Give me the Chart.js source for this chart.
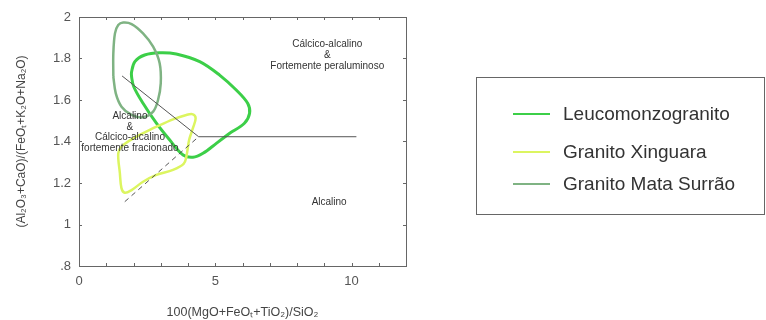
<!DOCTYPE html>
<html>
<head>
<meta charset="utf-8">
<script src="https://cdn.jsdelivr.net/npm/chart.js@4.4.1/dist/chart.umd.min.js"></script>
<style>
  html, body { margin: 0; padding: 0; background: #fff; }
  #wrap { position: relative; width: 766px; height: 320px; }
  #legenda {
    position: absolute; left: 476px; top: 77px; width: 289px; height: 138px;
    border: 1px solid #666; box-sizing: border-box;
    font-family: "Liberation Sans", Arial, sans-serif; font-size: 19px; color: #333;
  }
  .item { position: absolute; left: 36px; height: 24px; display: flex; align-items: center; }
  .item span.linha { display: inline-block; width: 37px; height: 2px; margin-right: 13px; }
</style>
</head>
<body>
<div id="wrap">
  <canvas id="grafico" width="766" height="320"></canvas>
  <div id="legenda"></div>
</div>
<script>
// Campos dos granitos (contornos fechados)
const leucoX = [5.53, 5.04, 4.55, 4.18, 3.82, 3.33, 2.84, 2.35, 2.01, 1.93, 1.93, 2.05, 2.41, 2.96, 3.57, 4.43, 5.16, 5.77, 6.19, 6.26, 6.07, 5.53];
const leucoY = [1.440, 1.391, 1.343, 1.324, 1.335, 1.407, 1.488, 1.584, 1.664, 1.712, 1.736, 1.785, 1.817, 1.828, 1.822, 1.785, 1.720, 1.648, 1.584, 1.536, 1.488, 1.440];

const xinguaraX = [2.72, 3.45, 3.94, 4.18, 4.28, 4.18, 4.04, 3.94, 3.84, 3.45, 2.84, 2.35, 1.93, 1.68, 1.56, 1.50, 1.44, 1.56, 1.99, 2.72];
const xinguaraY = [1.464, 1.507, 1.528, 1.531, 1.512, 1.464, 1.407, 1.327, 1.292, 1.263, 1.239, 1.206, 1.166, 1.153, 1.174, 1.247, 1.343, 1.375, 1.415, 1.464];

const mataX = [1.26, 1.26, 1.32, 1.44, 1.62, 1.93, 2.35, 2.72, 2.96, 3.00, 2.90, 2.72, 2.35, 1.93, 1.56, 1.35, 1.26];
const mataY = [1.712, 1.825, 1.921, 1.961, 1.973, 1.966, 1.921, 1.857, 1.777, 1.680, 1.600, 1.544, 1.517, 1.528, 1.568, 1.632, 1.712];

// Limites entre os campos
const limiteX = [1.58, 4.39, 10.18];
const limiteY = [1.716, 1.423, 1.423];
const tracejadoX = [1.68, 4.39];
const tracejadoY = [1.110, 1.423];

const nomes = ['Leucomonzogranito', 'Granito Xinguara', 'Granito Mata Surrão'];
const cores = ['#3ccf48', '#dcf560', '#7fb383'];

const xTicks = [0, 5, 10];
const yTicks = [2, 1.8, 1.6, 1.4, 1.2, 1, 0.8];

function pontos(xs, ys) {
  return xs.map((x, i) => ({ x: x, y: ys[i] }));
}

// Textos dos campos, em coordenadas do diagrama
const rotulos = [
  { x: 9.11, y: 1.870, t: 'Cálcico-alcalino' },
  { x: 9.11, y: 1.817, t: '&' },
  { x: 9.11, y: 1.764, t: 'Fortemente peraluminoso' },
  { x: 9.18, y: 1.108, t: 'Alcalino' },
  { x: 1.87, y: 1.523, t: 'Alcalino' },
  { x: 1.87, y: 1.470, t: '&' },
  { x: 1.87, y: 1.422, t: 'Cálcico-alcalino' },
  { x: 1.87, y: 1.369, t: 'fortemente fracionado' }
];

const molduraPlugin = {
  id: 'moldura',
  afterDraw(chart) {
    const { ctx, chartArea: a, scales: { x, y } } = chart;
    ctx.save();
    ctx.strokeStyle = '#666';
    ctx.lineWidth = 1;
    ctx.strokeRect(a.left + 0.5, a.top + 0.5, a.right - a.left, a.bottom - a.top);
    ctx.beginPath();
    for (let v = 1; v < 12; v++) {
      const px = Math.round(x.getPixelForValue(v)) + 0.5;
      ctx.moveTo(px, a.bottom); ctx.lineTo(px, a.bottom - 3);
      ctx.moveTo(px, a.top); ctx.lineTo(px, a.top + 3);
    }
    for (let v = 1; v < 6; v++) {
      const py = Math.round(y.getPixelForValue(0.8 + v * 0.2)) + 0.5;
      ctx.moveTo(a.left, py); ctx.lineTo(a.left + 3, py);
      ctx.moveTo(a.right, py); ctx.lineTo(a.right - 3, py);
    }
    ctx.stroke();
    ctx.fillStyle = '#333';
    ctx.font = '10px "Liberation Sans", Arial, sans-serif';
    ctx.textAlign = 'center';
    ctx.textBaseline = 'middle';
    rotulos.forEach(r => ctx.fillText(r.t, x.getPixelForValue(r.x), y.getPixelForValue(r.y)));
    ctx.restore();
  }
};

const ctx = document.getElementById('grafico').getContext('2d');
new Chart(ctx, {
  type: 'scatter',
  data: {
    datasets: [
      { label: 'limite', data: pontos(limiteX, limiteY), showLine: true, borderColor: '#555', borderWidth: 1, pointRadius: 0, tension: 0 },
      { label: 'tracejado', data: pontos(tracejadoX, tracejadoY), showLine: true, borderColor: '#555', borderWidth: 1, borderDash: [5, 4], pointRadius: 0, tension: 0 },
      { label: nomes[2], data: pontos(mataX, mataY), showLine: true, borderColor: cores[2], borderWidth: 2.5, pointRadius: 0, tension: 0.35 },
      { label: nomes[1], data: pontos(xinguaraX, xinguaraY), showLine: true, borderColor: cores[1], borderWidth: 2.5, pointRadius: 0, tension: 0.35 },
      { label: nomes[0], data: pontos(leucoX, leucoY), showLine: true, borderColor: cores[0], borderWidth: 3, pointRadius: 0, tension: 0.35 }
    ]
  },
  options: {
    responsive: false,
    animation: false,
    layout: { padding: { top: 17, right: 360, left: 0, bottom: 0 } },
    plugins: { legend: { display: false }, tooltip: { enabled: false } },
    scales: {
      x: {
        min: 0, max: 12,
        afterFit: s => { s.height = 54; },
        afterBuildTicks: s => { s.ticks = xTicks.map(v => ({ value: v })); },
        grid: { display: false, drawTicks: false },
        border: { display: false },
        ticks: { padding: 8, color: '#555', font: { family: '"Liberation Sans", Arial, sans-serif', size: 13 }, maxRotation: 0 },
        title: { display: true, text: '100(MgO+FeOₜ+TiO₂)/SiO₂', color: '#444', padding: { top: 0, bottom: 0 },
          font: { family: '"Liberation Sans", Arial, sans-serif', size: 12.5 } }
      },
      y: {
        min: 0.8, max: 2,
        afterFit: s => { s.width = 79; },
        afterBuildTicks: s => { s.ticks = yTicks.map(v => ({ value: v })); },
        grid: { display: false, drawTicks: false },
        border: { display: false },
        ticks: { padding: 8, color: '#555', font: { family: '"Liberation Sans", Arial, sans-serif', size: 13 },
          callback: v => String(v).replace(/^0\./, '.') },
        title: { display: true, text: '(Al₂O₃+CaO)/(FeOₜ+K₂O+Na₂O)', color: '#444', padding: { top: 14, bottom: 0 },
          font: { family: '"Liberation Sans", Arial, sans-serif', size: 12 } }
      }
    }
  },
  plugins: [molduraPlugin]
});

// Legenda em caixa à direita
const legenda = document.getElementById('legenda');
const linhasY = [24, 62, 94];
nomes.forEach((n, i) => {
  const d = document.createElement('div');
  d.className = 'item';
  d.style.top = linhasY[i] + 'px';
  d.innerHTML = '<span class="linha" style="background:' + cores[i] + '"></span>' + n;
  legenda.appendChild(d);
});
</script>
</body>
</html>
